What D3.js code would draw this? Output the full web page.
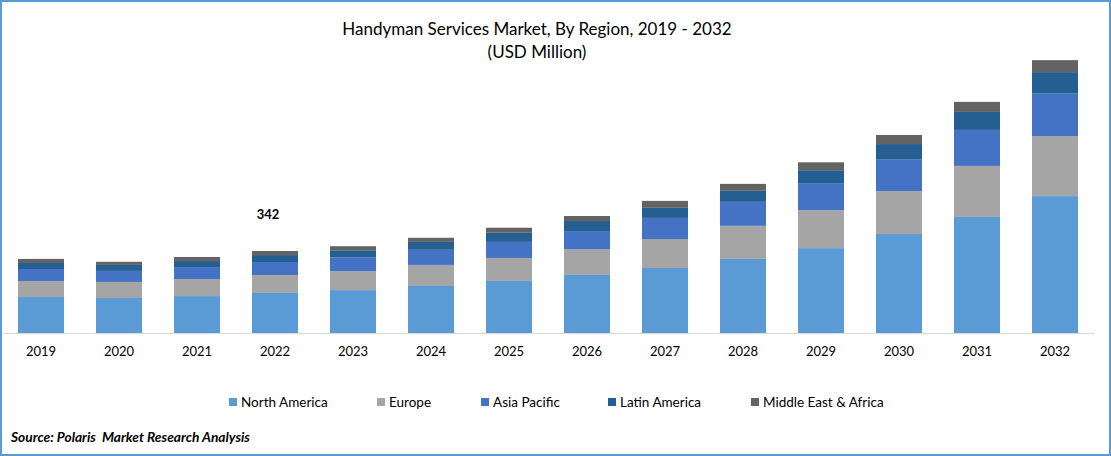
<!DOCTYPE html>
<html>
<head>
<meta charset="utf-8">
<script src="https://cdn.jsdelivr.net/npm/d3@7"></script>
<style>
  html, body { margin: 0; padding: 0; background: #fff; }
  text { font-family: Lato, sans-serif; fill: #000; white-space: pre; }
  .axis text { font-size: 13px; }
</style>
</head>
<body>
<svg id="chart"></svg>
<script>
const years = ["2019","2020","2021","2022","2023","2024","2025","2026","2027","2028","2029","2030","2031","2032"];
const regions = ["North America","Europe","Asia Pacific","Latin America","Middle East & Africa"];
const colors = ["#5b9bd5","#a5a5a5","#4472c4","#255e91","#636363"];

const northAmerica = [150,146,154,167,179,196,217,242,271,309,354,413,484,571];
const europe = [67,67,71,75,79,88,96,108,121,138,158,179,213,250];
const asiaPacific = [50,46,50,54,58,63,67,75,88,100,113,133,150,179];
const latinAmerica = [25,25,25,29,29,33,38,42,42,46,54,63,75,88];
const middleEast = [17,13,17,17,17,17,21,21,29,29,33,38,42,50];

const width = 1111;
const height = 456;
const baseY = 333;

const svg = d3.select("#chart")
    .attr("width", width)
    .attr("height", height)
    .style("display", "block");

// frame around the whole picture
svg.append("rect")
    .attr("x", 1).attr("y", 1)
    .attr("width", width - 2).attr("height", height - 2)
    .attr("fill", "none")
    .attr("stroke", "#5b9bd5")
    .attr("stroke-width", 2);

svg.append("text").attr("x", 537).attr("y", 35)
    .attr("text-anchor", "middle").style("font-size", "17px")
    .text("Handyman Services Market, By Region, 2019 - 2032");
svg.append("text").attr("x", 537).attr("y", 58)
    .attr("text-anchor", "middle").style("font-size", "17px")
    .text("(USD Million)");

const rows = years.map((y, i) => ({
    year: y,
    "North America": northAmerica[i],
    "Europe": europe[i],
    "Asia Pacific": asiaPacific[i],
    "Latin America": latinAmerica[i],
    "Middle East & Africa": middleEast[i]
}));

const x = d3.scaleBand().domain(years).range([2, 1094]).paddingInner(0.41).paddingOuter(0.205);
// 342 total in 2022 stands 82px tall
const y = d3.scaleLinear().domain([0, 342]).range([baseY, baseY - 82]);

const stacked = d3.stack().keys(regions)(rows);

svg.selectAll(".layer")
    .data(stacked)
    .enter()
    .append("g")
    .attr("class", "layer")
    .attr("fill", (d, i) => colors[i])
    .selectAll("rect")
    .data(d => d)
    .enter()
    .append("rect")
    .attr("x", d => x(d.data.year))
    .attr("y", d => y(d[1]))
    .attr("width", x.bandwidth())
    .attr("height", d => y(d[0]) - y(d[1]));

const xAxis = svg.append("g")
    .attr("class", "axis")
    .attr("transform", `translate(0,${baseY})`)
    .call(d3.axisBottom(x).tickSize(0).tickPadding(14));
xAxis.select(".domain").attr("stroke", "#d9d9d9").attr("stroke-width", 1);

// the one labelled total
svg.append("text")
    .attr("x", x("2022") + x.bandwidth() / 2 - 7)
    .attr("y", 219)
    .attr("text-anchor", "middle")
    .style("font-size", "13px")
    .style("font-weight", "700")
    .text("342");

// legend
const legendX = [229, 377, 481, 608, 751];
const legend = svg.selectAll(".legend")
    .data(regions)
    .enter()
    .append("g")
    .attr("class", "legend")
    .attr("transform", (d, i) => `translate(${legendX[i]},398)`);
legend.append("rect")
    .attr("width", 8).attr("height", 8)
    .attr("fill", (d, i) => colors[i]);
legend.append("text")
    .attr("x", 12).attr("y", 9)
    .style("font-size", "13.5px")
    .text(d => d);

svg.append("text")
    .attr("x", 11).attr("y", 442)
    .style("font-size", "13.75px")
    .style("font-weight", "700")
    .style("font-style", "italic")
    .text("Source: Polaris  Market Research Analysis");
</script>
</body>
</html>
